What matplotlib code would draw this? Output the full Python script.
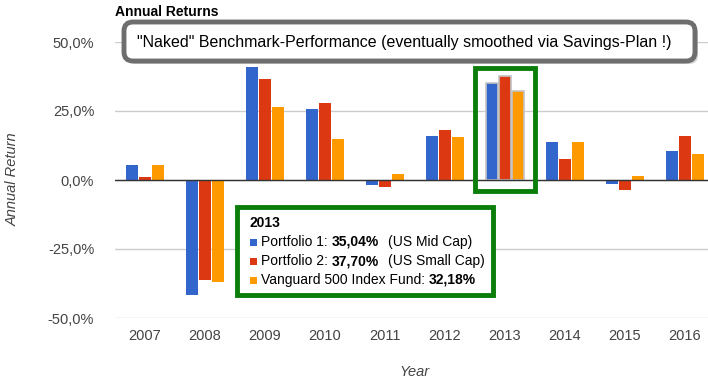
import numpy as np
import matplotlib
matplotlib.use("Agg")
import matplotlib.pyplot as plt
from matplotlib.patches import FancyBboxPatch, Rectangle
from matplotlib.ticker import FuncFormatter
from matplotlib.transforms import IdentityTransform

plt.rcParams['font.family'] = ['Liberation Sans', 'DejaVu Sans']

# Daten
years = ['2007', '2008', '2009', '2010', '2011', '2012', '2013', '2014', '2015', '2016']
series_names = ['Portfolio 1', 'Portfolio 2', 'Vanguard 500 Index Fund']
series_notes = ['(US Mid Cap)', '(US Small Cap)', '']
portfolio1 = [5.5, -41.7, 40.8, 25.7, -1.8, 15.9, 35.04, 13.8, -1.3, 10.5]
portfolio2 = [1.2, -36.2, 36.5, 27.9, -2.5, 18.1, 37.70, 7.6, -3.6, 16.0]
vanguard = [5.4, -37.0, 26.5, 15.0, 2.1, 15.7, 32.18, 13.6, 1.3, 9.4]
colors = ['#3366cc', '#dc3912', '#ff9900']
highlight = '2013'

W, H = 708, 382
fig = plt.figure(figsize=(W / 100, H / 100), dpi=100)
px = IdentityTransform()  # Pixel-Koordinaten (Ursprung unten links)


def fx(p):
    return p / W


def fy(p):
    return 1 - p / H


def py(p):
    # Pixel von oben -> Pixel von unten
    return H - p


ax = fig.add_axes([fx(115), fy(318), fx(708 - 115), fy(42) - fy(318)])

x = np.arange(len(years))
bw = 0.2
gap = 0.01
all_series = [portfolio1, portfolio2, vanguard]
hi = years.index(highlight)
for i, vals in enumerate(all_series):
    offs = (i - 1) * (bw + gap)
    ax.bar(x + offs, vals, width=bw, color=colors[i], zorder=3)
    # leichte Hervorhebung der 2013-Balken
    ax.bar(hi + offs, vals[hi], width=bw, color=colors[i],
           edgecolor='#c4c4c4', linewidth=1.2, zorder=3)

ax.set_xlim(-0.5, 9.383)
ax.set_ylim(-50, 50)
ax.set_yticks([-50, -25, 0, 25, 50])
ax.yaxis.set_major_formatter(FuncFormatter(lambda v, p: f'{v:.1f}%'.replace('.', ',')))
ax.set_xticks(x)
ax.set_xticklabels(years)
ax.tick_params(length=0, labelsize=10.5, labelcolor='#444444')
ax.tick_params(axis='y', pad=15)
ax.tick_params(axis='x', pad=8)
for s in ax.spines.values():
    s.set_visible(False)
ax.grid(axis='y', color='#cccccc', linewidth=1, zorder=0)
ax.axhline(0, color='#333333', linewidth=1, zorder=4)

fig.text(fx(13), fy(179), 'Annual Return', rotation=90, style='italic',
         color='#444444', fontsize=10.5, ha='center', va='center')
fig.text(fx(415), fy(372), 'Year', style='italic', color='#444444',
         fontsize=10.5, ha='center', va='center')
fig.text(fx(115), fy(12), 'Annual Returns', fontweight='bold', fontsize=10,
         color='#000000', ha='left', va='center')

# Kommentar-Box oben
bx0, bx1, by0, by1 = 124, 695, 22, 61
fig.add_artist(FancyBboxPatch((bx0 + 3, py(by1) - 3), bx1 - bx0, by1 - by0,
                              boxstyle='round,pad=0,rounding_size=9',
                              transform=px, facecolor='#999999',
                              edgecolor='none', alpha=0.45, zorder=9))
fig.add_artist(FancyBboxPatch((bx0, py(by1)), bx1 - bx0, by1 - by0,
                              boxstyle='round,pad=0,rounding_size=9',
                              transform=px, facecolor='white',
                              edgecolor='#6e6e6e', linewidth=3.5, zorder=10))
fig.text(fx(404), fy(42), '"Naked" Benchmark-Performance (eventually smoothed via Savings-Plan !)',
         fontsize=11.5, ha='center', va='center', color='#000000', zorder=11)

# gruener Rahmen um 2013
fig.add_artist(Rectangle((475, py(191)), 60, 123, transform=px, fill=False,
                         edgecolor='#0a7d0a', linewidth=3.5, zorder=10))

# Tooltip-Box
fig.add_artist(Rectangle((240, py(298)), 256, 88, transform=px,
                         facecolor='#888888', edgecolor='none', alpha=0.4, zorder=9))
fig.add_artist(Rectangle((237, py(295)), 256, 88, transform=px,
                         facecolor='white', edgecolor='#0a7d0a', linewidth=3.5, zorder=10))
fig.text(fx(249), fy(227), highlight, fontweight='bold', fontsize=10,
         ha='left', va='baseline', zorder=11)

renderer = fig.canvas.get_renderer()
line_y = [242, 261, 280]
for i, name in enumerate(series_names):
    yy = fy(line_y[i] + 4)
    fig.add_artist(Rectangle((250, py(line_y[i]) - 3.5), 7, 7, transform=px,
                             facecolor=colors[i], edgecolor='none', zorder=11))
    val = f'{all_series[i][hi]:.2f}%'.replace('.', ',')
    pieces = [(name + ':', 'normal', 4), (val, 'bold', 9), (series_notes[i], 'normal', 0)]
    xpos = fx(261)
    for txt, wt, extra in pieces:
        if not txt:
            continue
        t = fig.text(xpos, yy, txt, fontweight=wt, fontsize=10,
                     ha='left', va='baseline', zorder=11)
        bb = t.get_window_extent(renderer)
        xpos += (bb.width + extra) / W

fig.savefig('out.png', dpi=100)
